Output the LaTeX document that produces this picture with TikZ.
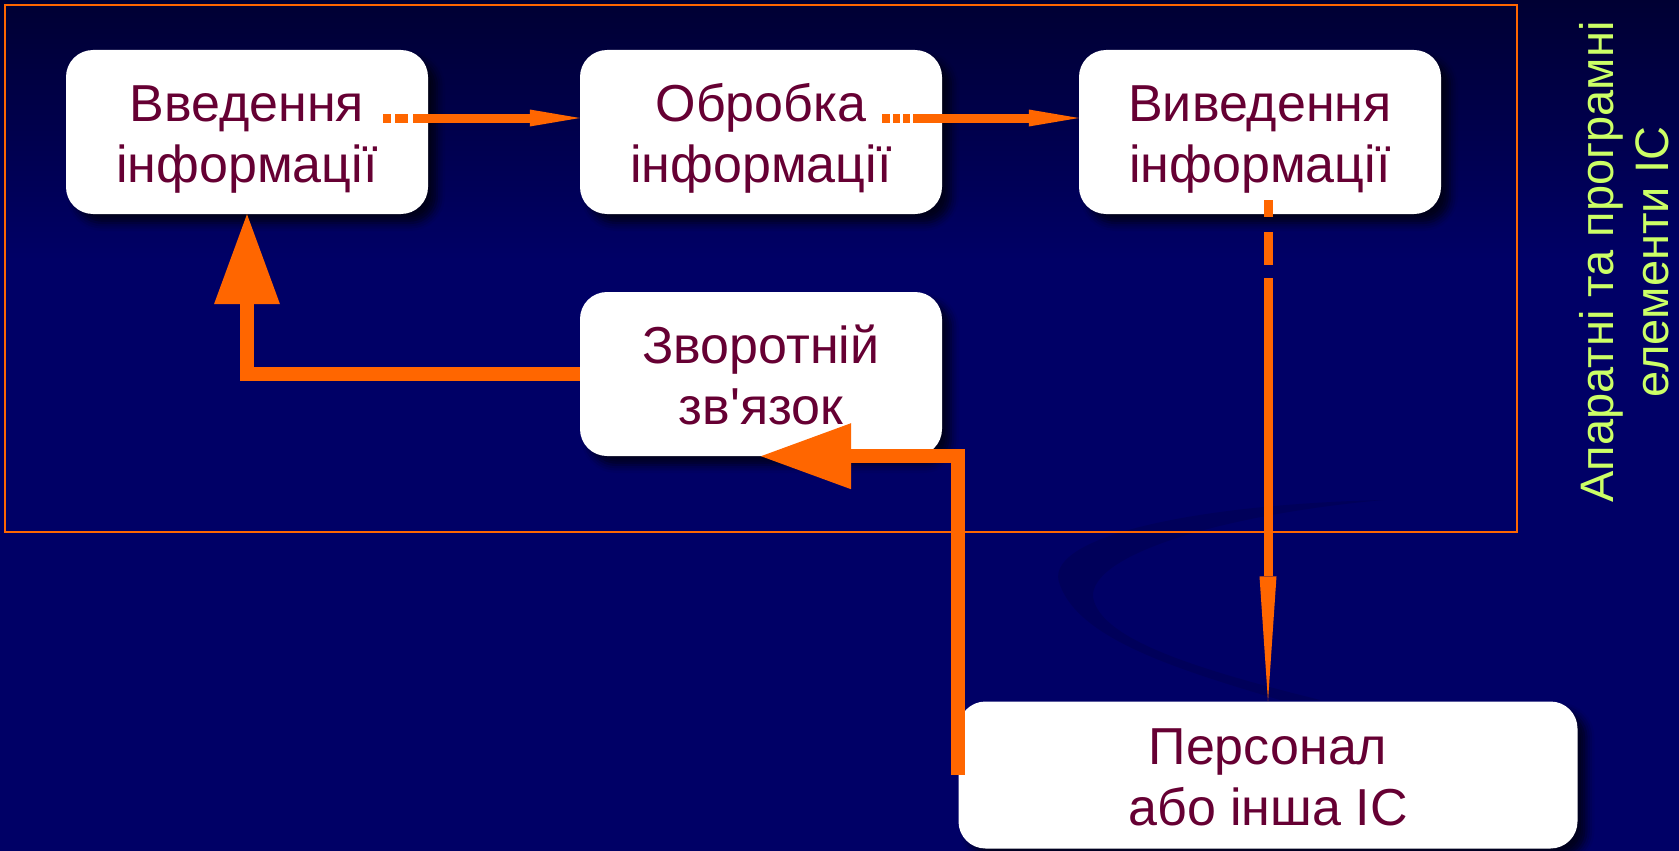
\documentclass[tikz,border=0pt]{standalone}
\usepackage{fontspec}
\setmainfont{Liberation Sans}
\usetikzlibrary{arrows.meta,shadows.blur}
\definecolor{bgnavy}{HTML}{000066}
\definecolor{bgdark}{HTML}{000033}
\definecolor{bgswirl}{HTML}{00005A}
\definecolor{arrorange}{HTML}{FF6600}
\definecolor{boxtext}{HTML}{660033}
\definecolor{sidegreen}{HTML}{CCFF66}
% two lines of a block, with fixed room above and below
\newcommand{\blocktext}[2]{\rule{0pt}{51pt}#1\\#2\rule[-12pt]{0pt}{12pt}}
\tikzset{
    box/.style={fill=white, rounded corners=27pt, minimum width=362pt, minimum height=164pt,
        inner sep=0pt, align=center, text=boxtext, font=\fontsize{52}{61}\selectfont,
        blur shadow={shadow xshift=9pt, shadow yshift=-9pt, shadow blur radius=8pt, shadow opacity=70}},
    thinarrow/.style={draw=arrorange, line width=9pt, -{Triangle[length=50pt, width=17pt, line width=0pt]}},
    longarrow/.style={draw=arrorange, line width=9pt, -{Triangle[length=125pt, width=17pt, line width=0pt]}},
    fbarrow/.style={draw=arrorange, line width=14pt, line join=miter, -{Triangle[length=90pt, width=66pt, line width=0pt]}},
    sidetext/.style={text=sidegreen, align=center, font=\fontsize{47}{55}\selectfont, inner sep=0pt}
}
\begin{document}
\begin{tikzpicture}[x=1pt, y=-1pt]
    \useasboundingbox (0, 0) rectangle (1679, 851);
    % background
    \fill[bgnavy] (0, 0) rectangle (1679, 851);
    \shade[top color=bgdark, bottom color=bgnavy] (0, 0) rectangle (1679, 260);
    \fill[bgswirl] (1383, 500) .. controls (1180, 505) and (1040, 540) .. (1060, 585)
        .. controls (1080, 640) and (1180, 670) .. (1280, 700)
        -- (1320, 700) .. controls (1200, 670) and (1100, 640) .. (1093, 597)
        .. controls (1090, 555) and (1220, 515) .. (1383, 500) -- cycle;
    \draw[arrorange, line width=2pt] (5, 5) rectangle (1517, 532);
    % blocks
    \node[box] (b1) at (247, 132) {\blocktext{Введення}{інформації}};
    \node[box] (b2) at (761, 132) {\blocktext{Обробка}{інформації}};
    \node[box] (b3) at (1260, 132) {\blocktext{Виведення}{інформації}};
    \node[box] (b4) at (761, 374) {\blocktext{Зворотній}{зв\textquotesingle язок}};
    \node[box, minimum width=619pt, minimum height=147pt] (b5) at (1268, 775) {\blocktext{Персонал}{або інша ІС}};
    \node[sidetext, rotate=90] (hw) at (1624, 262) {Апаратні та програмні\\елементи ІС};
    % arrows
    \coordinate (in1) at (383, 118);
    \coordinate (proc1) at (882, 118);
    \coordinate (out1) at (1268, 200);
    \draw[thinarrow, dash pattern=on 8pt off 4pt on 13pt off 5pt on 2000pt] (in1) -- (in1 -| b2.west);
    \draw[thinarrow, dash pattern=on 8pt off 3pt on 7pt off 3pt on 7pt off 3pt on 2000pt] (proc1) -- (proc1 -| b3.west);
    \draw[longarrow, dash pattern=on 17pt off 15pt on 33pt off 13pt on 2000pt] (out1) -- (b5.north);
    \draw[fbarrow] (b5.west) |- (b4.south);
    \draw[fbarrow] (b4.west) -| (b1.south);
\end{tikzpicture}
\end{document}
